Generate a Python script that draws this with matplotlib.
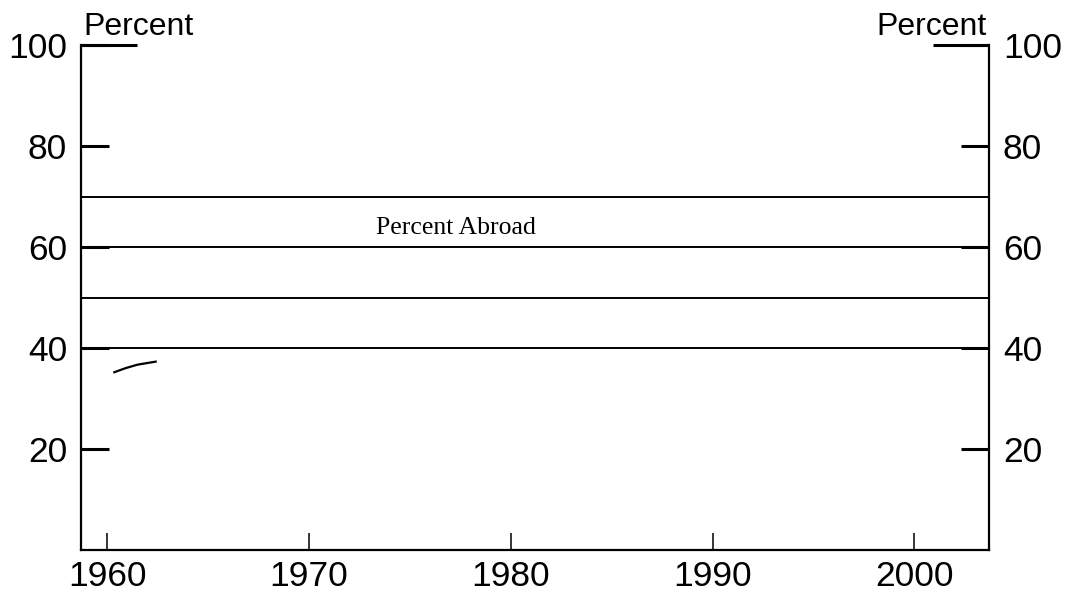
import matplotlib
matplotlib.use("Agg")
import matplotlib.pyplot as plt
from matplotlib.ticker import FixedLocator

# Data
years = [1960.35, 1960.9, 1961.5, 1962.4]
percent_abroad = [35.2, 36.0, 36.7, 37.3]
ref_levels = [70, 60, 50, 40]
x_ticks = [1960, 1970, 1980, 1990, 2000]
x_labels = ["1960", "1970", "1980", "1990", "2000"]
y_ticks = [20, 40, 60, 80, 100]
y_labels = ["20", "40", "60", "80", "100"]

fig = plt.figure(figsize=(10.68, 5.95), dpi=100)
ax = fig.add_axes([81/1068, 1-550/595, (989-81)/1068, (550-45)/595])

ax.set_xlim(1958.7, 2003.7)
ax.set_ylim(0, 100)

for lv in ref_levels:
    ax.axhline(lv, color="black", lw=1.4, zorder=1)

ax.plot(years, percent_abroad, color="black", lw=1.6)

ax.text(1973.3, 63.8, "Percent Abroad", family="Liberation Serif", fontsize=18.5,
        va="center", ha="left")

ax.spines["top"].set_visible(False)
for s in ["left", "right", "bottom"]:
    ax.spines[s].set_linewidth(1.6)

sans = "Liberation Sans"
ax.set_xticks(x_ticks)
ax.set_xticklabels(x_labels, family=sans, fontsize=25.5)
ax.set_yticks(y_ticks)
ax.set_yticklabels(y_labels, family=sans, fontsize=25.5)
ax.tick_params(axis="x", direction="in", length=12, width=1.1, pad=7)
ax.tick_params(axis="y", which="major", direction="in", length=20, width=2.2, pad=10,
               left=True, right=True, labelleft=True, labelright=True)
ax.yaxis.remove_overlapping_locs = False
ax.yaxis.set_minor_locator(FixedLocator([100]))
ax.tick_params(axis="y", which="minor", direction="in", length=40, width=2.2,
               left=True, right=True)

fig.text(83/1068, 1-35/595, "Percent", family=sans, fontsize=23, ha="left", va="baseline")
fig.text(987/1068, 1-35/595, "Percent", family=sans, fontsize=23, ha="right", va="baseline")

fig.savefig("out.png", dpi=100)
